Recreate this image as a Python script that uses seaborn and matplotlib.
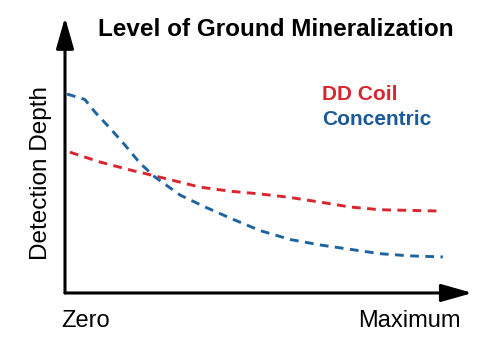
import matplotlib
matplotlib.use("Agg")
import matplotlib.pyplot as plt
from matplotlib.patches import FancyArrowPatch
import seaborn as sns
import pandas as pd

sns.set_theme(style="white")
plt.rcParams['font.family'] = ['Liberation Sans', 'DejaVu Sans']

# Data (x: mineralization level 0..100, y: detection depth 0..100)
concentric_x = [0.5, 4.9, 7.4, 11.1, 14.8, 18.5, 22.2, 28.4, 34.6, 40.7, 48.1, 55.6, 63.0, 70.4, 77.8, 85.2, 93.3]
concentric_y = [72.9, 70.9, 66.3, 60.4, 54.2, 47.6, 42.5, 35.9, 31.5, 27.5, 22.9, 19.6, 17.6, 16.0, 14.4, 13.6, 13.2]
ddcoil_x = [1.2, 8.6, 16.0, 22.2, 33.3, 40.7, 48.1, 55.6, 63.0, 70.4, 77.8, 93.3]
ddcoil_y = [51.6, 48.0, 45.1, 42.9, 38.8, 37.3, 36.3, 35.0, 33.3, 31.5, 30.5, 30.0]
series_names = ["DD Coil", "Concentric"]
title = "Level of Ground Mineralization"
x_labels = ["Zero", "Maximum"]
y_label = "Detection Depth"

RED = "#d9262e"
BLUE = "#1f64a0"

df = pd.concat([
    pd.DataFrame({"x": ddcoil_x, "y": ddcoil_y, "s": series_names[0]}),
    pd.DataFrame({"x": concentric_x, "y": concentric_y, "s": series_names[1]}),
])

fig = plt.figure(figsize=(5.0, 3.49), dpi=100)
ax = fig.add_axes([0.13, 0.1605, 0.81, 0.782])

sns.lineplot(data=df, x="x", y="y", hue="s", palette=[RED, BLUE], ax=ax,
             legend=False, linewidth=2.1, sort=False, estimator=None)
for line in ax.get_lines():
    line.set_linestyle((0, (3.0, 2.2)))
    line.set_solid_joinstyle("round")

ax.set_xlim(0, 100)
ax.set_ylim(0, 100)
ax.set_xticks([])
ax.set_yticks([])
ax.set_xlabel("")
ax.set_ylabel("")
for sp in ax.spines.values():
    sp.set_visible(False)

# axis arrows
for start, end in [((0, 0), (0, 1.01)), ((0, 0), (1.006, 0))]:
    arr = FancyArrowPatch(start, end, transform=ax.transAxes,
                          arrowstyle="-|>,head_length=19,head_width=5.4",
                          mutation_scale=1, color="black", linewidth=2.2,
                          clip_on=False, shrinkA=0, shrinkB=0)
    ax.add_patch(arr)

fig.text(276 / 500, 1 - 30 / 349, title, ha="center", va="center",
         fontsize=17.5, fontweight="bold", color="black")
fig.text(322 / 500, 1 - 100 / 349, series_names[0], ha="left", va="baseline",
         fontsize=15, fontweight="bold", color=RED)
fig.text(322 / 500, 1 - 125 / 349, series_names[1], ha="left", va="baseline",
         fontsize=15, fontweight="bold", color="#1a5a98")
fig.text(41 / 500, 1 - 173 / 349, y_label, ha="center", va="center",
         rotation=90, fontsize=17.5, color="black")
fig.text(86 / 500, 1 - 327 / 349, x_labels[0], ha="center", va="baseline",
         fontsize=17, color="black")
fig.text(409 / 500, 1 - 327 / 349, x_labels[1], ha="center", va="baseline",
         fontsize=17, color="black")

fig.savefig("out.png", dpi=100, facecolor="white")
